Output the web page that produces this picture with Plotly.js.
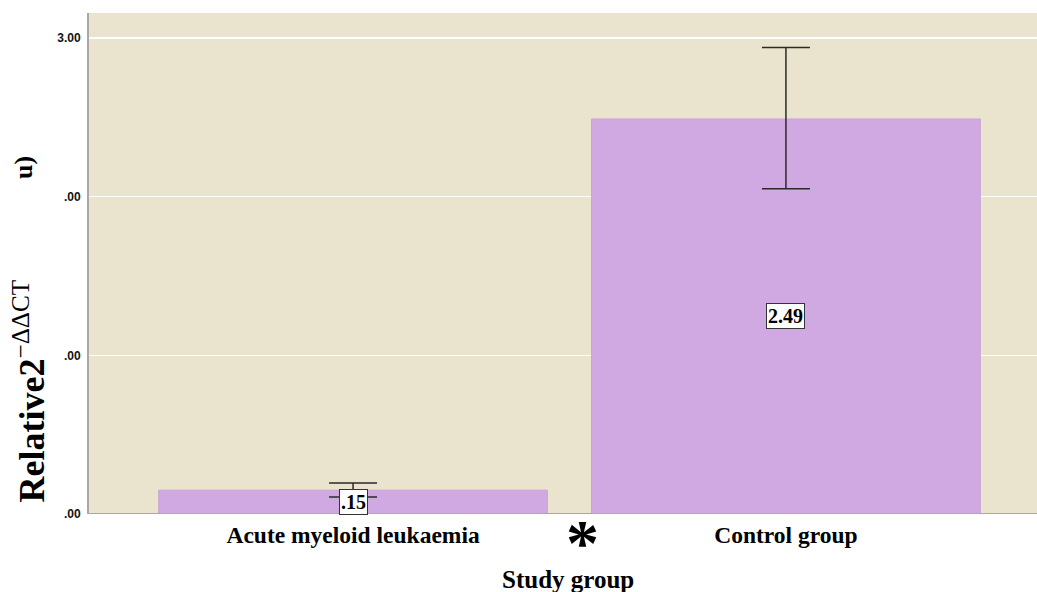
<!DOCTYPE html>
<html><head><meta charset="utf-8">
<script src="https://cdn.plot.ly/plotly-3.0.1.min.js"></script>
<style>html,body{margin:0;padding:0;background:#fff;}</style>
</head><body>
<div id="chart" style="width:1037px;height:592px;"></div>
<script>
const categories = ["Acute myeloid leukaemia", "Control group"];
const means = [0.15, 2.49];
const errUpper = [0.195, 2.94];
const errLower = [0.107, 2.05];
const barLabels = [".15", "2.49"];
const yTickVals = [0, 1, 2, 3];
const yTickText = [".00", ".00", ".00", "3.00"];

const SERIF = "Liberation Serif, Times New Roman, serif";

const trace = {
  type: "bar",
  x: categories,
  y: means,
  width: 0.898,
  marker: {color: "#D0A9E3", line: {color: "#C8A2DA", width: 1}},
  error_y: {
    type: "data", symmetric: false,
    array: errUpper.map((u, i) => u - means[i]),
    arrayminus: means.map((m, i) => m - errLower[i]),
    color: "#2a2a2a", thickness: 1.5, width: 24
  },
  hoverinfo: "none"
};

const annotations = categories.map((c, i) => ({
  x: c, y: means[i] / 2, xref: "x", yref: "y",
  text: "<b>" + barLabels[i] + "</b>", showarrow: false,
  font: {family: SERIF, size: 20, color: "#000"},
  bgcolor: "#ffffff", bordercolor: "#333", borderwidth: 1, borderpad: 1
}));
annotations.push({
  xref: "paper", yref: "paper", x: -0.063, y: 0.245,
  text: "<b>Relative2</b><sup>−ΔΔCT</sup>", textangle: -90, showarrow: false,
  xanchor: "center", yanchor: "middle",
  font: {family: SERIF, size: 36, color: "#000"}
});
annotations.push({
  xref: "paper", yref: "paper", x: -0.069, y: 0.692,
  text: "<b>u)</b>", textangle: -90, showarrow: false,
  xanchor: "center", yanchor: "middle",
  font: {family: SERIF, size: 26, color: "#000"}
});
annotations.push({
  xref: "paper", yref: "paper", x: 0.521, y: 0.02,
  text: "<b>*</b>", showarrow: false, xanchor: "center", yanchor: "top",
  height: 44, valign: "top",
  font: {family: SERIF, size: 66, color: "#000"}
});
annotations.push({
  xref: "paper", yref: "paper", x: 0.5055, y: -0.1,
  text: "<b>Study group</b>", showarrow: false, xanchor: "center", yanchor: "top",
  font: {family: SERIF, size: 25, color: "#000"}
});

const layout = {
  width: 1037, height: 592,
  margin: {l: 89, r: 0, t: 13, b: 78},
  paper_bgcolor: "#ffffff",
  plot_bgcolor: "#EAE4CF",
  showlegend: false,
  bargap: 0,
  xaxis: {
    range: [-0.61, 1.58], showgrid: false, zeroline: false,
    showline: false, ticks: "",
    tickvals: categories, ticktext: categories.map(c => "<b>" + c + "</b>"),
    tickfont: {family: SERIF, size: 23.5, color: "#000"},
    ticklabelstandoff: 4, fixedrange: true
  },
  yaxis: {
    range: [0, 3.158], tickvals: yTickVals, ticktext: yTickText.map(t => "<b>" + t + "</b>"),
    showgrid: true, gridcolor: "#ffffff", gridwidth: 1.3,
    zeroline: false, showline: true, linecolor: "#A8A8A8", linewidth: 2,
    ticks: "", tickfont: {family: "Arial, Liberation Sans, sans-serif", size: 12, color: "#111"},
    ticklabelstandoff: 4, fixedrange: true
  },
  shapes: [{
    type: "line", xref: "paper", yref: "y", x0: 0, x1: 1, y0: 0, y1: 0,
    line: {color: "#A8A8A8", width: 2}
  }],
  annotations: annotations
};

Plotly.newPlot("chart", [trace], layout, {displayModeBar: false, staticPlot: true});
</script>
</body></html>
